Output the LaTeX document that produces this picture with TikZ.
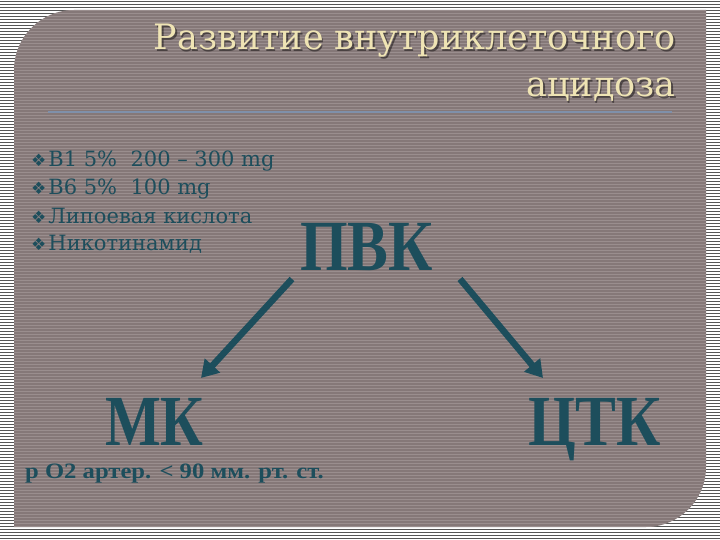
\documentclass[tikz,border=0pt]{standalone}
\usepackage{fontspec}
\setmainfont{DejaVu Serif}
\newfontfamily\libserif{Liberation Serif}
\newfontfamily\symfont{DejaVu Sans}
\usetikzlibrary{arrows.meta}
\definecolor{outerbg}{HTML}{555555}
\definecolor{panelbg}{HTML}{857878}
\definecolor{panelstripe}{HTML}{9A8E8E}
\definecolor{titlecol}{HTML}{EFE4B4}
\definecolor{tealtext}{HTML}{1D4E5C}
\definecolor{rulecol}{HTML}{7F90AA}
\newcommand{\bul}{{\symfont\fontsize{17}{18}\selectfont ❖}\hspace{2pt}}
\tikzset{
  titletext/.style={font=\fontsize{35}{40}\selectfont, text=titlecol, inner sep=0pt, anchor=base east},
  titleshadow/.style={font=\fontsize{35}{40}\selectfont, text=black, opacity=0.45, inner sep=0pt, anchor=base east},
  bullettext/.style={font=\fontsize{21}{22}\selectfont, text=tealtext, inner sep=0pt, anchor=base west},
  bignode/.style={font=\libserif\bfseries\fontsize{72}{76}\selectfont, text=tealtext, inner sep=0pt, anchor=base west},
  notetext/.style={font=\libserif\bfseries\fontsize{22}{24}\selectfont, text=tealtext, inner sep=0pt, anchor=base west},
  flowarrow/.style={draw=tealtext, line width=6.5pt, -{Triangle[width=20pt,length=17pt]}}
}
\begin{document}
\begin{tikzpicture}[x=1pt,y=-1pt]
\useasboundingbox (0,0) rectangle (720,540);
% outer striped background
\fill[outerbg] (0,0) rectangle (720,540);
\foreach \yy in {0,3,...,540} \draw[white, line width=1.3pt] (0,\yy) -- (720,\yy);
% panel
\begin{scope}
\path[clip] (14,70) .. controls (14,37) and (41,10) .. (74,10) -- (706,10) -- (706,467)
  .. controls (706,500) and (679,527) .. (646,527) -- (14,527) -- cycle;
\fill[panelbg] (0,0) rectangle (720,540);
\foreach \yy in {1,4,...,540} \draw[panelstripe, line width=0.8pt] (0,\yy) -- (720,\yy);
\end{scope}
% title
\node[titleshadow] at (677.5,51.5) {Развитие внутриклеточного};
\node[titletext] (title1) at (676,50) {Развитие внутриклеточного};
\node[titleshadow] at (677.5,98.5) {ацидоза};
\node[titletext] (title2) at (676,97) {ацидоза};
\draw[rulecol, line width=2.5pt] (48,112) -- (672,112);
% bullets
\node[bullettext] (b1) at (31,167) {\bul B1 5\%\ \ 200 – 300 mg};
\node[bullettext] (b2) at (31,195) {\bul B6 5\%\ \ 100 mg};
\node[bullettext] (b3) at (31,223) {\bul Липоевая кислота};
\node[bullettext] (b4) at (31,251) {\bul Никотинамид};
% main nodes
\node[bignode] (pvk) at (300,270) {\scalebox{0.85}[1]{ПВК}};
\node[bignode] (mk) at (105,445) {\scalebox{0.82}[1]{МК}};
\node[bignode] (ctk) at (528,445) {\scalebox{0.85}[1]{ЦТК}};
\node[notetext] (note) at (25,478) {\scalebox{1.12}[1]{р О2 артер. < 90 мм. рт. ст.}};
% arrows
\coordinate (a1s) at (292,279);
\coordinate (a1e) at (201,378);
\coordinate (a2s) at (460,279);
\coordinate (a2e) at (543,378);
\draw[flowarrow] (a1s) -- (a1e);
\draw[flowarrow] (a2s) -- (a2e);
\end{tikzpicture}
\end{document}
